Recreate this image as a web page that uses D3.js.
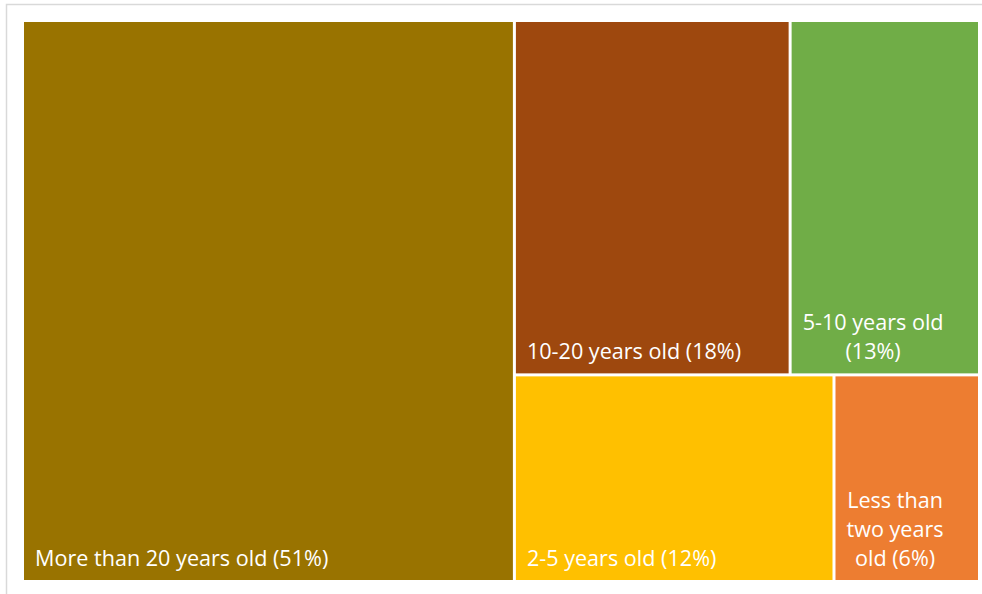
<!DOCTYPE html>
<html>
<head>
<meta charset="utf-8">
<script src="https://cdn.jsdelivr.net/npm/d3@7"></script>
<style>
  html, body { margin: 0; padding: 0; background: #ffffff; }
  svg { display: block; }
  text { font-family: "Open Sans", "Noto Sans", sans-serif; }
</style>
</head>
<body>
<svg id="chart" width="982" height="594"></svg>
<script>
// ---- data ----
const categories = ["More than 20 years old", "10-20 years old", "5-10 years old", "2-5 years old", "Less than two years old"];
const values = [51.4, 18.2, 12.5, 12.3, 5.6];
const colors = ["#997300", "#9E480E", "#70AD47", "#FFC000", "#ED7D31"];

const W = 982, H = 594;
const svg = d3.select("#chart");

// outer chart border
svg.append("rect")
  .attr("x", 6.5).attr("y", 4.5)
  .attr("width", 1000).attr("height", 1000)
  .attr("fill", "#ffffff")
  .attr("stroke", "#d9d9d9").attr("stroke-width", 1.5);

const area = { x0: 24, y0: 22, x1: 978, y1: 580 };

const rootData = {
  name: "root",
  children: categories.map((c, i) => ({ name: c, value: values[i], color: colors[i] }))
};

const root = d3.hierarchy(rootData)
  .sum(d => d.value || 0)
  .sort((a, b) => b.value - a.value);

d3.treemap()
  .tile(d3.treemapSquarify)
  .size([area.x1 - area.x0, area.y1 - area.y0])
  .paddingInner(3)
  .round(false)(root);

const g = svg.append("g").attr("transform", `translate(${area.x0},${area.y0})`);

const cell = g.selectAll("g.cell")
  .data(root.leaves())
  .join("g")
  .attr("class", "cell");

cell.append("rect")
  .attr("x", d => d.x0)
  .attr("y", d => d.y0)
  .attr("width", d => d.x1 - d.x0)
  .attr("height", d => d.y1 - d.y0)
  .attr("fill", d => d.data.color);

const fontSize = 21.6;
const lineH = 29;
const padX = 11;
const padBottom = 14;

cell.each(function(d) {
  const sel = d3.select(this);
  const label = `${d.data.name} (${Math.round(d.data.value)}%)`;
  const words = label.split(" ");
  const maxW = (d.x1 - d.x0) - 2 * padX;
  const t = sel.append("text")
    .attr("font-size", fontSize)
    .attr("fill", "#ffffff");
  // greedy wrap
  const lines = [];
  let cur = [];
  const probe = t.append("tspan");
  words.forEach(w => {
    const test = cur.concat([w]).join(" ");
    probe.text(test);
    if (probe.node().getComputedTextLength() > maxW && cur.length) {
      lines.push(cur.join(" "));
      cur = [w];
    } else {
      cur.push(w);
    }
  });
  if (cur.length) lines.push(cur.join(" "));
  const widths = lines.map(l => { probe.text(l); return probe.node().getComputedTextLength(); });
  probe.remove();
  const blockW = d3.max(widths);
  const cx = d.x0 + padX + blockW / 2;
  const lastBase = d.y1 - padBottom;
  lines.forEach((l, i) => {
    t.append("tspan")
      .attr("x", cx)
      .attr("y", lastBase - (lines.length - 1 - i) * lineH)
      .attr("text-anchor", "middle")
      .text(l);
  });
});
</script>
</body>
</html>
